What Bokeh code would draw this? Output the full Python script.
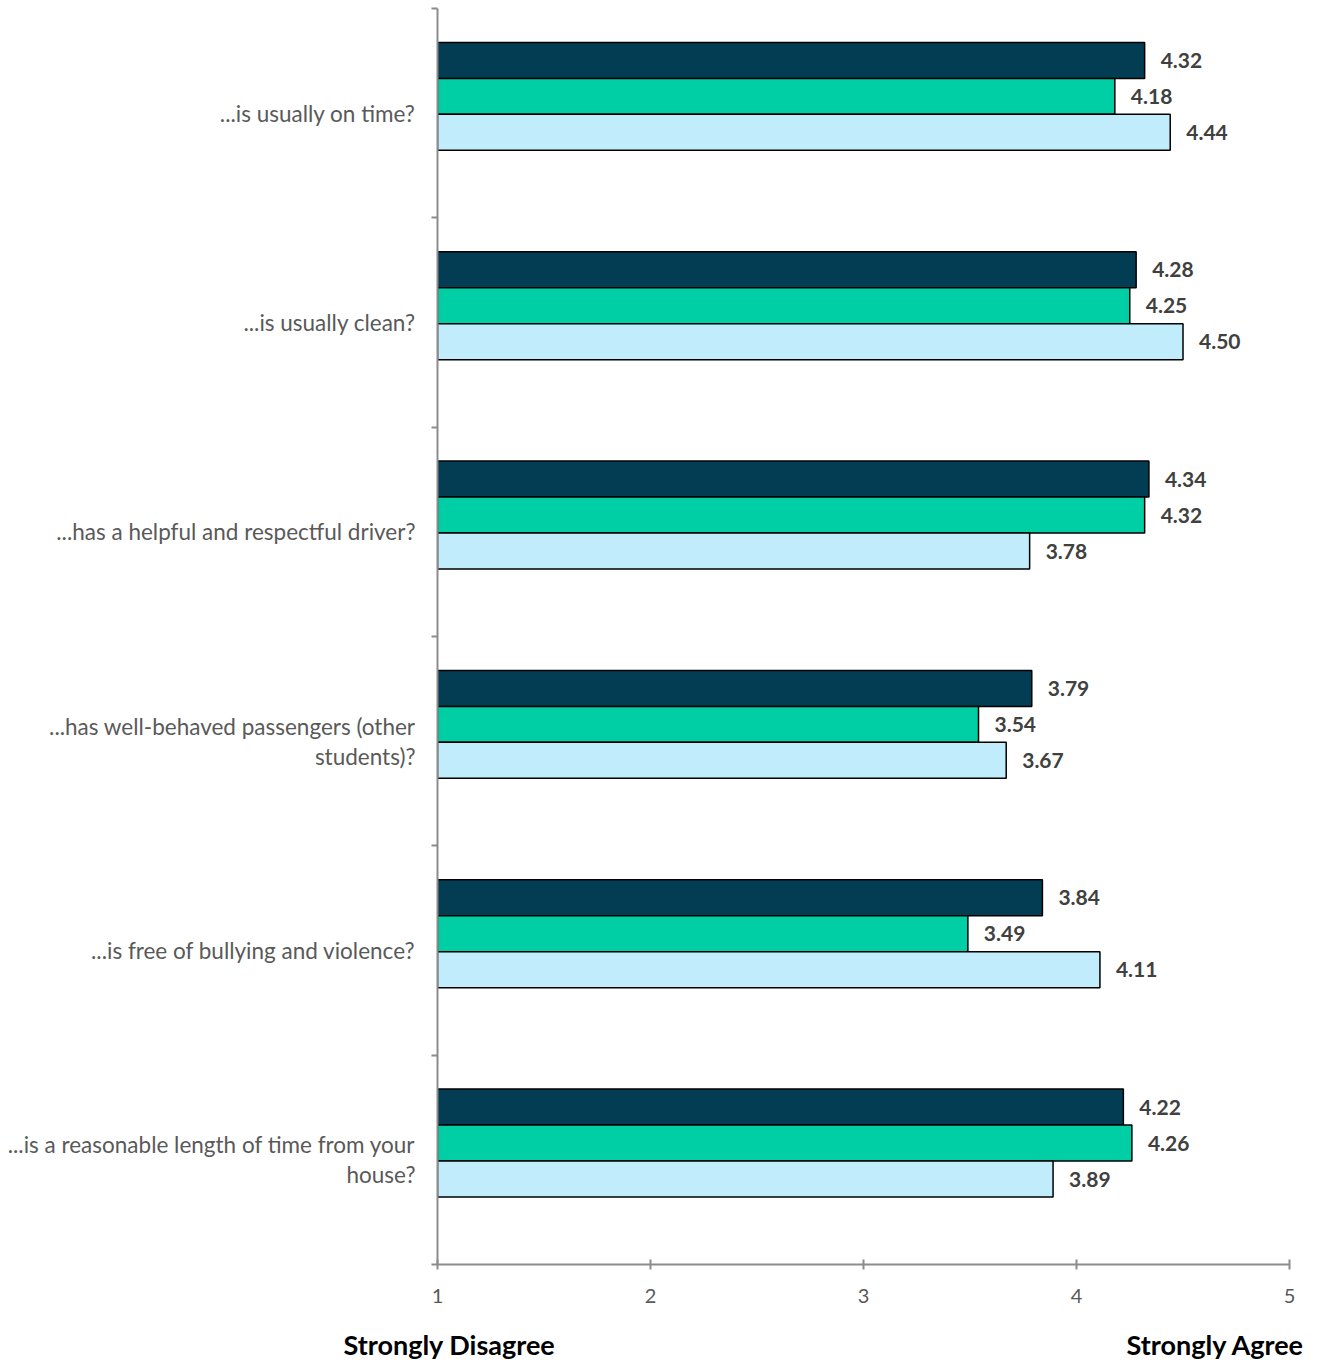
from bokeh.plotting import figure
from bokeh.models import Range1d, FixedTicker, ColumnDataSource, LabelSet, LinearAxis
from bokeh.core.properties import value
from bokeh.embed import file_html
from bokeh.resources import INLINE

categories = [
    "...is usually on time?",
    "...is usually clean?",
    "...has a helpful and respectful driver?",
    "...has well-behaved passengers (other\nstudents)?",
    "...is free of bullying and violence?",
    "...is a reasonable length of time from your\nhouse?",
]
series_a = [4.32, 4.28, 4.34, 3.79, 3.84, 4.22]   # dark navy
series_b = [4.18, 4.25, 4.32, 3.54, 3.49, 4.26]   # teal
series_c = [4.44, 4.50, 3.78, 3.67, 4.11, 3.89]   # light blue
x_ticks = [1, 2, 3, 4, 5]
end_labels = {1.056: "Strongly Disagree", 4.653: "Strongly Agree"}

colors = ["#023D54", "#00CFA5", "#C1ECFB"]
FONT = "Lato"
AXIS_GRAY = "#8C8C8C"

p = figure(width=1317, height=1363, x_range=Range1d(1, 5), y_range=Range1d(6, 0),
           output_backend="svg", toolbar_location=None,
           min_border_left=437, min_border_right=28, min_border_top=8, min_border_bottom=98)
p.outline_line_color = None
p.xgrid.visible = False
p.ygrid.visible = False
p.background_fill_color = "white"

bar_h = 0.1718
first = 0.248
for k, (vals, col) in enumerate(zip([series_a, series_b, series_c], colors)):
    ys = [i + first + k * bar_h for i in range(len(categories))]
    src = ColumnDataSource(dict(y=ys, right=vals, txt=["%.2f" % v for v in vals]))
    p.hbar(y="y", left=1, right="right", height=bar_h, source=src,
           fill_color=col, line_color="black", line_width=1.5)
    p.add_layout(LabelSet(x="right", y="y", text="txt", source=src, x_offset=16,
                          text_baseline="middle", text_align="left",
                          text_font=value(FONT), text_font_style="bold",
                          text_font_size="21px", text_color="#404040"))

# x axis
xa = p.xaxis[0]
xa.ticker = FixedTicker(ticks=x_ticks)
xa.axis_line_color = AXIS_GRAY
xa.axis_line_width = 2
xa.major_tick_line_color = AXIS_GRAY
xa.major_tick_line_width = 2
xa.major_tick_in = 5
xa.major_tick_out = 5
xa.minor_tick_line_color = None
xa.major_label_standoff = 19
xa.major_label_text_font = FONT
xa.major_label_text_font_size = "20px"
xa.major_label_text_color = "#595959"

# second bottom axis carrying the scale end captions
xb = LinearAxis(ticker=FixedTicker(ticks=list(end_labels.keys())),
                major_label_overrides=end_labels)
xb.axis_line_color = None
xb.major_tick_line_color = None
xb.minor_tick_line_color = None
xb.major_label_standoff = 16
xb.major_label_text_font = FONT
xb.major_label_text_font_style = "bold"
xb.major_label_text_font_size = "27px"
xb.major_label_text_color = "black"
p.add_layout(xb, "below")

# y axis: ticks at category boundaries, no labels
bounds = list(range(len(categories) + 1))
ya = p.yaxis[0]
ya.ticker = FixedTicker(ticks=bounds)
ya.major_label_overrides = {b: "" for b in bounds}
ya.major_label_standoff = 0
ya.axis_line_color = AXIS_GRAY
ya.axis_line_width = 2
ya.major_tick_line_color = AXIS_GRAY
ya.major_tick_line_width = 2
ya.major_tick_in = 0
ya.major_tick_out = 6
ya.minor_tick_line_color = None

# category labels at band centres
centres = [i + 0.5 for i in range(len(categories))]
yc = LinearAxis(ticker=FixedTicker(ticks=centres),
                major_label_overrides={c: cat for c, cat in zip(centres, categories)})
yc.axis_line_color = None
yc.major_tick_line_color = None
yc.minor_tick_line_color = None
yc.major_label_standoff = 10
yc.major_label_text_font = FONT
yc.major_label_text_font_size = "22.5px"
yc.major_label_text_color = "#595959"
yc.major_label_text_line_height = 1.1
p.add_layout(yc, "left")

open("out.html", "w").write(file_html(p, INLINE))
